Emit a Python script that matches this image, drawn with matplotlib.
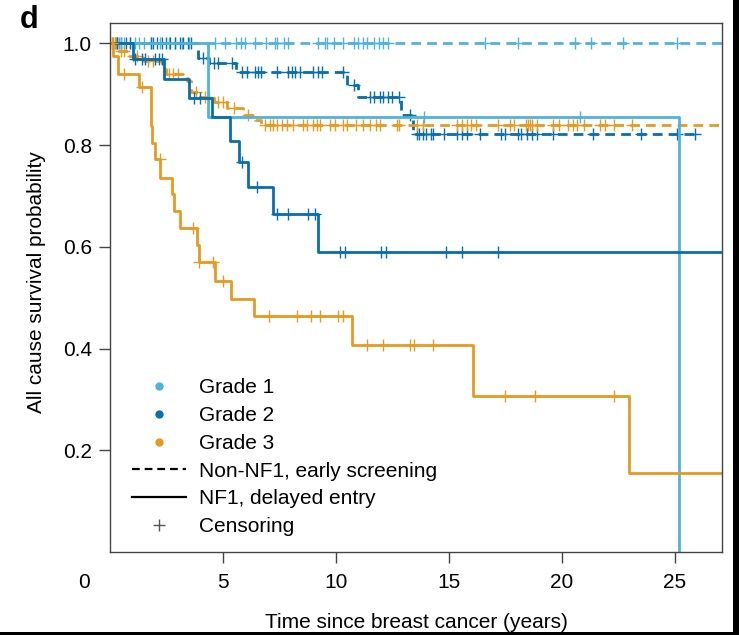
import numpy as np
import matplotlib
matplotlib.use("Agg")
import matplotlib.pyplot as plt
from matplotlib.lines import Line2D
from matplotlib.patches import Rectangle

plt.rcParams["font.family"] = ["Liberation Sans", "DejaVu Sans"]

C1 = "#4FB3DD"   # grade 1
C2 = "#0A6EAC"   # grade 2
C3 = "#E69A22"   # grade 3
SPINE = "#444444"

# ---------------------------------------------------------------------------
# Kaplan-Meier curves (event times in years, survival after the event)
# ---------------------------------------------------------------------------
g1_screen_t = []
g1_screen_s = []
g1_screen_end = 27.1
g1_screen_cens = [0.2, 0.4, 0.6, 0.9, 1.1, 1.5, 1.8, 2.2, 2.6, 2.9, 3.2, 3.5, 4.65, 5.1, 5.6, 5.8,
                  6.0, 6.4, 6.9, 7.3, 7.4, 7.7, 7.9, 9.2, 9.5, 9.6, 9.9, 10.3, 10.8, 11.0, 11.2, 11.4,
                  11.7, 11.9, 12.1, 12.3, 16.6, 18.05, 20.6, 21.3, 22.7, 25.1]

g1_nf1_t = [4.35, 25.2]
g1_nf1_s = [0.855, 0.0]
g1_nf1_end = 25.2
g1_nf1_cens = [0.5, 1.3, 13.9, 20.8]

g2_screen_t = [3.9, 4.4, 5.6, 10.5, 11.0, 12.9, 13.4]
g2_screen_s = [0.972, 0.962, 0.943, 0.918, 0.895, 0.860, 0.822]
g2_screen_end = 25.9
g2_screen_cens = [0.3, 0.5, 0.7, 0.9, 1.8, 1.9, 2.1, 2.3, 2.5, 2.65, 2.9, 3.1, 3.25, 3.45, 3.6,
                  4.1, 4.6, 4.8, 5.4, 5.84, 6.06, 6.4, 6.55, 6.7, 7.4, 7.9, 8.05, 8.2, 8.4, 9.0,
                  9.2, 9.4, 10.3, 10.8, 11.5, 11.7, 11.95, 12.1, 12.3, 12.5, 12.8, 13.3, 13.6,
                  13.7, 13.85, 14.0, 14.2, 14.3, 14.8, 15.35, 15.6, 15.8, 16.4, 17.3, 17.5, 18.05,
                  18.2, 18.45, 18.7, 18.9, 19.6, 21.4, 23.5, 25.1, 25.9]

g2_nf1_t = [1.0, 2.4, 3.5, 4.5, 5.3, 5.7, 6.1, 7.2, 9.2]
g2_nf1_s = [0.969, 0.93, 0.892, 0.855, 0.808, 0.767, 0.718, 0.665, 0.590]
g2_nf1_end = 27.1
g2_nf1_cens = [0.3, 1.1, 1.4, 1.55, 2.0, 2.15, 2.3, 3.7, 4.0, 5.84, 6.5, 7.39, 7.88, 8.76, 9.07,
               10.18, 10.4, 12.0, 12.2, 14.9, 15.6, 17.2]

g3_screen_t = [0.3, 0.8, 1.5, 2.3, 2.5, 3.4, 3.6, 4.0, 4.6, 5.2, 5.9, 6.4, 6.7]
g3_screen_s = [0.985, 0.975, 0.965, 0.95, 0.94, 0.925, 0.905, 0.895, 0.885, 0.872, 0.86, 0.85, 0.839]
g3_screen_end = 27.1
g3_screen_cens = [0.1, 0.15, 0.2, 0.25, 0.5, 0.6, 1.0, 1.2, 1.7, 1.9, 2.6, 2.8, 3.0, 3.8, 4.2, 4.4,
                  4.8, 5.0, 5.5, 6.1, 6.86, 7.08, 7.21, 7.39, 7.61, 7.83, 8.1, 8.54, 8.72, 8.98,
                  9.16, 9.29, 9.73, 9.96, 10.3, 10.5, 10.9, 11.2, 11.5, 11.8, 11.95, 12.7, 12.8,
                  13.6, 13.85, 15.35, 15.6, 15.8, 16.0, 16.2, 17.2, 17.7, 17.9, 18.4, 18.5, 18.6,
                  18.7, 18.9, 19.6, 19.9, 20.3, 20.5, 20.7, 21.0, 21.7, 21.9, 22.3, 23.1]

g3_nf1_t = [0.15, 0.35, 1.3, 1.8, 1.86, 1.99, 2.21, 2.73, 2.83, 3.1, 3.84, 3.94, 4.65, 5.38, 6.37,
            10.7, 16.06, 23.0]
g3_nf1_s = [0.975, 0.94, 0.915, 0.837, 0.805, 0.773, 0.736, 0.704, 0.671, 0.637, 0.603, 0.570,
            0.532, 0.497, 0.464, 0.406, 0.306, 0.155]
g3_nf1_end = 27.1
g3_nf1_cens = [0.1, 0.6, 1.4, 2.2, 3.67, 3.95, 4.56, 5.0, 7.04, 8.3, 8.9, 9.3, 10.1, 10.3, 11.4,
               12.1, 13.3, 13.45, 14.3, 17.5, 18.8, 22.3]

legend_labels = ["Grade 1", "Grade 2", "Grade 3", "Non-NF1, early screening",
                 "NF1, delayed entry", "Censoring"]

curves = [
    (g1_screen_t, g1_screen_s, g1_screen_end, g1_screen_cens, C1, "--"),
    (g2_screen_t, g2_screen_s, g2_screen_end, g2_screen_cens, C2, "--"),
    (g3_screen_t, g3_screen_s, g3_screen_end, g3_screen_cens, C3, "--"),
    (g1_nf1_t, g1_nf1_s, g1_nf1_end, g1_nf1_cens, C1, "-"),
    (g2_nf1_t, g2_nf1_s, g2_nf1_end, g2_nf1_cens, C2, "-"),
    (g3_nf1_t, g3_nf1_s, g3_nf1_end, g3_nf1_cens, C3, "-"),
]

fig = plt.figure(figsize=(7.39, 6.35), dpi=100)
ax = fig.add_axes([110 / 739, 83 / 635, 612 / 739, 529 / 635])

for t_ev, s_ev, t_end, cens, col, ls in curves:
    t = np.array([0.0] + list(t_ev) + [t_end])
    s = np.array([1.0] + list(s_ev) + [([1.0] + list(s_ev))[-1]])
    line, = ax.step(t, s, where="post", color=col, lw=2.0, ls=ls)
    if ls == "--":
        line.set_dashes([3.5, 2.2])
    c = np.array(cens)
    cy = s[np.searchsorted(t, c, side="right") - 1]
    ax.plot(c, cy, ls="none", marker="+", color=col, ms=9, mew=1.0)

ax.set_xlim(0, 27.1)
ax.set_ylim(0, 1.04)
ax.set_xticks([5, 10, 15, 20, 25])
ax.set_yticks([0.2, 0.4, 0.6, 0.8, 1.0])
ax.set_yticklabels(["0.2", "0.4", "0.6", "0.8", "1.0"])
ax.tick_params(labelsize=15, length=8, width=1.0, color=SPINE, direction="out")
ax.tick_params(axis="x", pad=7)
ax.tick_params(axis="y", pad=5)
for sp in ax.spines.values():
    sp.set_color(SPINE)
    sp.set_linewidth(1.0)

ax.set_xlabel("Time since breast cancer (years)", fontsize=15)
ax.set_ylabel("All cause survival probability", fontsize=15)
ax.xaxis.set_label_coords(0.5, -0.115)
ax.yaxis.set_label_coords(-0.105, 0.51)
fig.text(84 / 739, 1 - 582 / 635, "0", fontsize=15, ha="center", va="center")
fig.text(20 / 739, 1 - 20 / 635, "d", fontsize=22, fontweight="bold", ha="left", va="center")

handles = [
    Line2D([], [], ls="none", marker="o", ms=5, color=C1),
    Line2D([], [], ls="none", marker="o", ms=5, color=C2),
    Line2D([], [], ls="none", marker="o", ms=5, color=C3),
    Line2D([], [], color="black", lw=1.6, dashes=[3.5, 2.2]),
    Line2D([], [], color="black", lw=1.6),
    Line2D([], [], ls="none", marker="+", ms=9, mew=1.0, color="#555555"),
]
ax.legend(handles, legend_labels, loc="lower left", bbox_to_anchor=(0.036, 0.03), frameon=False,
          fontsize=15, handlelength=2.6, handletextpad=0.6, labelspacing=0.42, borderpad=0,
          borderaxespad=0)

# black strips along the right and bottom edge of the original image
fig.add_artist(Rectangle((733 / 739, 0), 6 / 739, 1, transform=fig.transFigure, color="black", lw=0))
fig.add_artist(Rectangle((0, 0), 1, 3 / 635, transform=fig.transFigure, color="black", lw=0))

fig.savefig("out.png", dpi=100)
